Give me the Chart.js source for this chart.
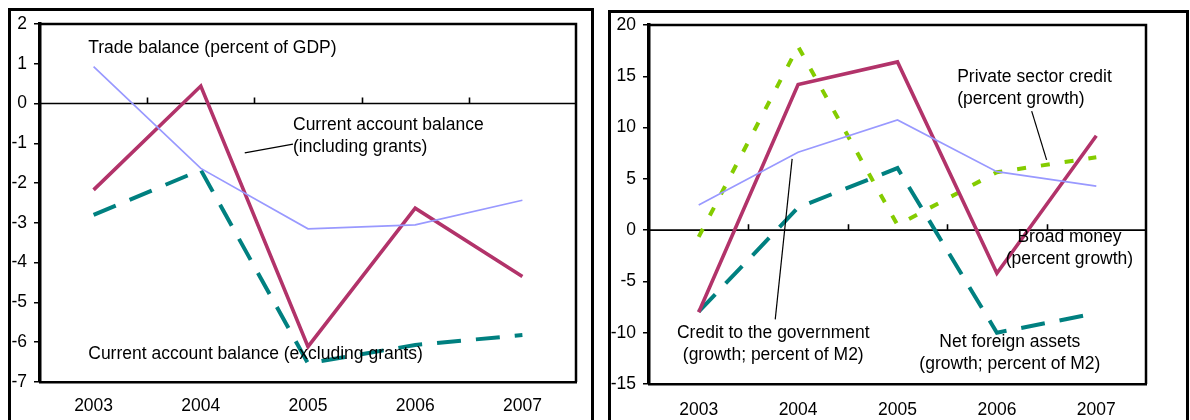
<!DOCTYPE html>
<html>
<head>
<meta charset="utf-8">
<script src="https://cdn.jsdelivr.net/npm/chart.js@4.4.1/dist/chart.umd.min.js"></script>
<style>
  html, body { margin: 0; padding: 0; background: #fff; }
  body { width: 1190px; height: 420px; position: relative; overflow: hidden; }
  .panel { position: absolute; border: 3px solid #000; box-sizing: border-box; }
  canvas { position: absolute; top: 0; }
</style>
</head>
<body>
<div class="panel" style="left:8px; top:8px; width:586px; height:440px;"></div>
<div class="panel" style="left:608px; top:10px; width:581px; height:440px;"></div>
<canvas id="external" width="600" height="420" style="left:0"></canvas>
<canvas id="monetary" width="590" height="420" style="left:600px"></canvas>
<script>
// Years shown on both panels
const years = ['2003', '2004', '2005', '2006', '2007'];

// External sector (percent of GDP)
const tradeBalance = [0.93, -1.63, -3.15, -3.05, -2.43];
const currentInclGrants = [-2.17, 0.44, -6.11, -2.63, -4.35];
const currentExclGrants = [-2.8, -1.67, -6.53, -6.07, -5.82];

// Monetary aggregates (growth)
const broadMoney = [-8.0, 14.2, 16.4, -4.2, 9.2];
const privateCredit = [-0.65, 17.9, 0.5, 5.65, 7.1];
const govCredit = [2.45, 7.6, 10.75, 5.7, 4.3];
const netForeignAssets = [-7.95, 2.2, 6.05, -10.0, -8.1];

// Y-axis ranges
const externalTicks = { min: -7, max: 2, step: 1 };
const monetaryTicks = { min: -15, max: 20, step: 5 };

// Callout labels, positioned in data units: [category index, value]
const externalNotes = [
  { lines: ['Trade balance (percent of GDP)'], at: [-0.05, 1.40], align: 'left' },
  { lines: ['Current account balance', '(including grants)'], at: [1.86, -0.54], align: 'left' },
  { lines: ['Current account balance (excluding grants)'], at: [-0.05, -6.29], align: 'left' }
];
const externalLeaders = [
  { from: [1.41, -1.24], to: [1.86, -1.02] }
];
const monetaryNotes = [
  { lines: ['Private sector credit', '(percent growth)'], at: [2.60, 14.94], align: 'left' },
  { lines: ['Broad money', '(percent growth)'], at: [3.73, -0.65], align: 'center' },
  { lines: ['Net foreign assets', '(growth; percent of M2)'], at: [3.13, -10.9], align: 'center' },
  { lines: ['Credit to the government', '(growth; percent of M2)'], at: [0.75, -10.0], align: 'center' }
];
const monetaryLeaders = [
  { from: [3.35, 11.6], to: [3.50, 6.85] },
  { from: [0.77, -8.7], to: [0.94, 6.95] }
];

const FONT_FAMILY = '"Liberation Sans", Arial, Helvetica, sans-serif';
const FONT_SIZE = 17.5;
const LINE_GAP = 22;

const MAROON = '#B2336A';
const TEAL = '#008080';
const LILAC = '#9999FF';
const LIME = '#84CC00';

// Plot frame, zero line with category-boundary ticks, then callouts on top
function framePlugin(notes, leaders) {
  return {
    id: 'frame',
    beforeDatasetsDraw(chart) {
      const { ctx, chartArea: { left, top, right, bottom }, scales: { x, y } } = chart;
      ctx.save();
      ctx.strokeStyle = '#000';
      ctx.lineWidth = 2.5;
      ctx.beginPath();
      ctx.moveTo(left, top);
      ctx.lineTo(right, top);
      ctx.lineTo(right, bottom);
      ctx.stroke();

      const y0 = y.getPixelForValue(0);
      ctx.lineWidth = 1.6;
      ctx.beginPath();
      ctx.moveTo(left, y0);
      ctx.lineTo(right, y0);
      for (let i = 0; i < x.getLabels().length - 1; i++) {
        const xb = Math.round(x.getPixelForValue(i + 0.5)) + 0.5;
        ctx.moveTo(xb, y0);
        ctx.lineTo(xb, y0 - 6);
      }
      ctx.stroke();
      ctx.restore();
    },
    afterDatasetsDraw(chart) {
      const { ctx, scales: { x, y } } = chart;
      ctx.save();
      ctx.strokeStyle = '#000';
      ctx.lineWidth = 1.2;
      leaders.forEach(l => {
        ctx.beginPath();
        ctx.moveTo(x.getPixelForValue(l.from[0]), y.getPixelForValue(l.from[1]));
        ctx.lineTo(x.getPixelForValue(l.to[0]), y.getPixelForValue(l.to[1]));
        ctx.stroke();
      });
      ctx.fillStyle = '#000';
      ctx.font = FONT_SIZE + 'px ' + FONT_FAMILY;
      ctx.textBaseline = 'middle';
      notes.forEach(n => {
        ctx.textAlign = n.align;
        const px = x.getPixelForValue(n.at[0]);
        const py = y.getPixelForValue(n.at[1]);
        n.lines.forEach((t, i) => ctx.fillText(t, px, py + i * LINE_GAP));
      });
      ctx.restore();
    }
  };
}

function lineSet(label, data, color, width, dash) {
  return {
    label, data,
    borderColor: color,
    backgroundColor: color,
    borderWidth: width,
    borderDash: dash || [],
    borderCapStyle: 'butt',
    borderJoinStyle: 'miter',
    pointRadius: 0,
    tension: 0,
    fill: false
  };
}

function buildChart(id, datasets, range, box, notes, leaders) {
  return new Chart(document.getElementById(id), {
    type: 'line',
    data: { labels: years, datasets },
    options: {
      responsive: false,
      animation: false,
      devicePixelRatio: 1,
      layout: { padding: { top: box.top, right: box.right, left: 0, bottom: 0 } },
      plugins: { legend: { display: false }, tooltip: { enabled: false } },
      scales: {
        x: {
          type: 'category',
          offset: true,
          grid: { display: false },
          border: { display: true, color: '#000', width: 2.5 },
          ticks: {
            color: '#000',
            font: { family: FONT_FAMILY, size: FONT_SIZE },
            padding: box.xPad,
            maxRotation: 0,
            autoSkip: false
          },
          afterFit(scale) { scale.height = box.xHeight; }
        },
        y: {
          min: range.min,
          max: range.max,
          grid: {
            drawOnChartArea: false,
            drawTicks: true,
            tickLength: 6,
            color: '#000',
            lineWidth: 1.5
          },
          border: { display: true, color: '#000', width: 3.5 },
          ticks: {
            stepSize: range.step,
            color: '#000',
            font: { family: FONT_FAMILY, size: FONT_SIZE },
            padding: box.yPad
          },
          afterFit(scale) { scale.width = box.yWidth; }
        }
      }
    },
    plugins: [framePlugin(notes, leaders)]
  });
}

buildChart('external', [
  lineSet('Trade balance (percent of GDP)', tradeBalance, LILAC, 1.7),
  lineSet('Current account balance (including grants)', currentInclGrants, MAROON, 3.6),
  lineSet('Current account balance (excluding grants)', currentExclGrants, TEAL, 4, [24, 15])
], externalTicks,
  { top: 24, right: 24, yWidth: 40, xHeight: 38, xPad: 6, yPad: 7 },
  externalNotes, externalLeaders);

buildChart('monetary', [
  lineSet('Credit to the government', govCredit, LILAC, 1.7),
  lineSet('Broad money', broadMoney, MAROON, 3.6),
  lineSet('Private sector credit', privateCredit, LIME, 4, [9, 15]),
  lineSet('Net foreign assets', netForeignAssets, TEAL, 4, [24, 15])
], monetaryTicks,
  { top: 25, right: 44, yWidth: 49, xHeight: 36, xPad: 8, yPad: 7 },
  monetaryNotes, monetaryLeaders);
</script>
</body>
</html>
